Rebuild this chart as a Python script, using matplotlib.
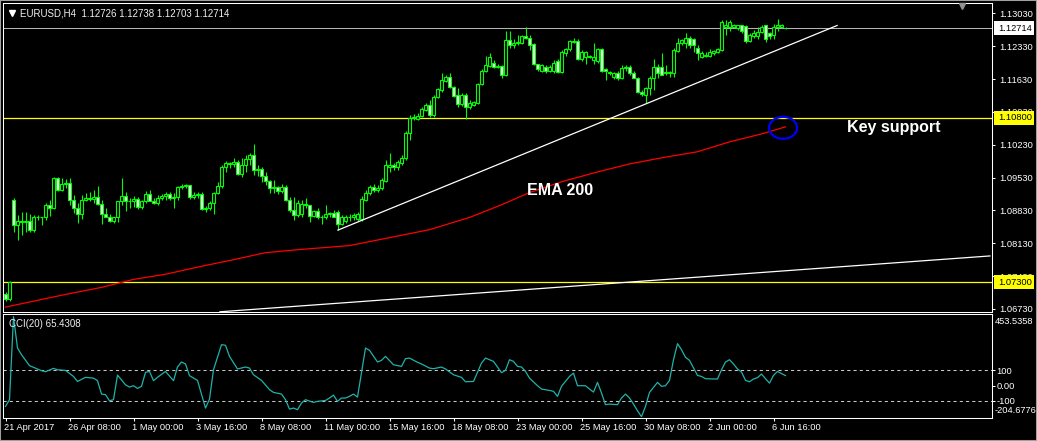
import numpy as np
import matplotlib
matplotlib.use('Agg')
import matplotlib.pyplot as plt
import matplotlib.transforms as mtransforms
from matplotlib.patches import Ellipse, Rectangle

# EURUSD H4 candles (bar index 0 = 21 Apr 2017)
opens = [
    1.0704, 1.0694, 1.0906, 1.0851, 1.0861, 1.0859, 1.0861, 1.0842, 1.0868, 1.0870,
    1.0868, 1.0895, 1.0889, 1.0952, 1.0927, 1.0940, 1.0942, 1.0906, 1.0889, 1.0876,
    1.0906, 1.0910, 1.0908, 1.0912, 1.0897, 1.0876, 1.0870, 1.0861, 1.0868, 1.0904,
    1.0914, 1.0902, 1.0904, 1.0908, 1.0891, 1.0902, 1.0919, 1.0904, 1.0899, 1.0910,
    1.0914, 1.0919, 1.0910, 1.0912, 1.0933, 1.0935, 1.0938, 1.0912, 1.0916, 1.0919,
    1.0887, 1.0889, 1.0899, 1.0921, 1.0935, 1.0976, 1.0984, 1.0982, 1.0986, 1.0961,
    1.0980, 1.0993, 1.1001, 1.0969, 1.0972, 1.0957, 1.0946, 1.0931, 1.0933, 1.0925,
    1.0933, 1.0906, 1.0884, 1.0874, 1.0876, 1.0897, 1.0895, 1.0872, 1.0882, 1.0868,
    1.0870, 1.0876, 1.0878, 1.0880, 1.0853, 1.0861, 1.0870, 1.0868, 1.0865, 1.0865,
    1.0906, 1.0921, 1.0933, 1.0927, 1.0931, 1.0946, 1.0976, 1.0980, 1.0976, 1.0984,
    1.0995, 1.1048, 1.1080, 1.1078, 1.1084, 1.1097, 1.1107, 1.1086, 1.1124, 1.1139,
    1.1158, 1.1167, 1.1146, 1.1128, 1.1109, 1.1128, 1.1103, 1.1107, 1.1112, 1.1152,
    1.1179, 1.1190, 1.1198, 1.1188, 1.1190, 1.1171, 1.1247, 1.1235, 1.1239, 1.1239,
    1.1254, 1.1251, 1.1237, 1.1194, 1.1181, 1.1188, 1.1179, 1.1181, 1.1201, 1.1177,
    1.1218, 1.1226, 1.1241, 1.1245, 1.1205, 1.1209, 1.1211, 1.1203, 1.1201, 1.1226,
    1.1184, 1.1177, 1.1167, 1.1175, 1.1165, 1.1186, 1.1188, 1.1175, 1.1165, 1.1135,
    1.1128, 1.1143, 1.1165, 1.1188, 1.1188, 1.1175, 1.1175, 1.1175, 1.1222, 1.1239,
    1.1239, 1.1251, 1.1249, 1.1228, 1.1209, 1.1211, 1.1213, 1.1218, 1.1220, 1.1224,
    1.1273, 1.1273, 1.1273, 1.1271, 1.1277, 1.1275, 1.1243, 1.1254, 1.1254, 1.1264,
    1.1277, 1.1260, 1.1256, 1.1273, 1.1273, 1.12726,
]
highs = [
    1.0709, 1.0732, 1.0910, 1.0874, 1.0880, 1.0880, 1.0876, 1.0874, 1.0874, 1.0870,
    1.0899, 1.0906, 1.0955, 1.0955, 1.0952, 1.0950, 1.0952, 1.0916, 1.0899, 1.0916,
    1.0921, 1.0923, 1.0927, 1.0935, 1.0906, 1.0889, 1.0876, 1.0868, 1.0904, 1.0952,
    1.0923, 1.0910, 1.0914, 1.0912, 1.0906, 1.0925, 1.0927, 1.0910, 1.0916, 1.0919,
    1.0923, 1.0923, 1.0921, 1.0935, 1.0940, 1.0940, 1.0938, 1.0923, 1.0923, 1.0923,
    1.0893, 1.0902, 1.0923, 1.0944, 1.0980, 1.0988, 1.0986, 1.0995, 1.0990, 1.0995,
    1.1001, 1.1005, 1.1025, 1.0980, 1.0976, 1.0965, 1.0948, 1.0948, 1.0935, 1.0940,
    1.0938, 1.0912, 1.0912, 1.0906, 1.0906, 1.0910, 1.0895, 1.0884, 1.0889, 1.0874,
    1.0895, 1.0880, 1.0884, 1.0884, 1.0874, 1.0874, 1.0876, 1.0878, 1.0880, 1.0914,
    1.0927, 1.0938, 1.0940, 1.0938, 1.0952, 1.0990, 1.1005, 1.0984, 1.0990, 1.1001,
    1.1052, 1.1086, 1.1088, 1.1090, 1.1103, 1.1112, 1.1118, 1.1128, 1.1143, 1.1175,
    1.1171, 1.1175, 1.1148, 1.1143, 1.1133, 1.1133, 1.1118, 1.1116, 1.1154, 1.1184,
    1.1213, 1.1218, 1.1203, 1.1196, 1.1192, 1.1266, 1.1266, 1.1249, 1.1256, 1.1256,
    1.1273, 1.1256, 1.1239, 1.1196, 1.1196, 1.1192, 1.1192, 1.1203, 1.1205, 1.1224,
    1.1228, 1.1247, 1.1251, 1.1249, 1.1224, 1.1222, 1.1215, 1.1239, 1.1228, 1.1228,
    1.1186, 1.1181, 1.1177, 1.1179, 1.1192, 1.1192, 1.1192, 1.1181, 1.1167, 1.1139,
    1.1146, 1.1169, 1.1205, 1.1196, 1.1218, 1.1192, 1.1181, 1.1228, 1.1251, 1.1249,
    1.1260, 1.1254, 1.1251, 1.1235, 1.1222, 1.1220, 1.1226, 1.1224, 1.1228, 1.1288,
    1.1288, 1.1288, 1.1281, 1.1279, 1.1279, 1.1277, 1.1260, 1.1268, 1.1273, 1.1279,
    1.1279, 1.1264, 1.1281, 1.1290, 1.1281, 1.12738,
]
lows = [
    1.0689, 1.0689, 1.0838, 1.0821, 1.0831, 1.0838, 1.0838, 1.0838, 1.0863, 1.0851,
    1.0863, 1.0872, 1.0887, 1.0925, 1.0925, 1.0931, 1.0895, 1.0878, 1.0857, 1.0865,
    1.0902, 1.0902, 1.0899, 1.0895, 1.0853, 1.0870, 1.0859, 1.0857, 1.0859, 1.0895,
    1.0882, 1.0889, 1.0891, 1.0887, 1.0887, 1.0899, 1.0902, 1.0897, 1.0895, 1.0906,
    1.0906, 1.0906, 1.0889, 1.0906, 1.0929, 1.0931, 1.0908, 1.0908, 1.0910, 1.0884,
    1.0880, 1.0884, 1.0876, 1.0919, 1.0931, 1.0965, 1.0974, 1.0976, 1.0959, 1.0955,
    1.0965, 1.0980, 1.0959, 1.0957, 1.0944, 1.0938, 1.0921, 1.0921, 1.0919, 1.0921,
    1.0902, 1.0880, 1.0863, 1.0870, 1.0870, 1.0889, 1.0859, 1.0868, 1.0865, 1.0855,
    1.0865, 1.0868, 1.0868, 1.0842, 1.0851, 1.0857, 1.0861, 1.0863, 1.0861, 1.0861,
    1.0904, 1.0916, 1.0923, 1.0923, 1.0927, 1.0944, 1.0965, 1.0969, 1.0969, 1.0980,
    1.0990, 1.1033, 1.1075, 1.1075, 1.1082, 1.1095, 1.1082, 1.1082, 1.1122, 1.1135,
    1.1156, 1.1143, 1.1124, 1.1103, 1.1105, 1.1078, 1.1099, 1.1105, 1.1109, 1.1150,
    1.1177, 1.1188, 1.1186, 1.1186, 1.1165, 1.1169, 1.1230, 1.1230, 1.1235, 1.1237,
    1.1249, 1.1224, 1.1192, 1.1179, 1.1177, 1.1175, 1.1177, 1.1175, 1.1175, 1.1175,
    1.1213, 1.1222, 1.1239, 1.1203, 1.1201, 1.1196, 1.1207, 1.1196, 1.1198, 1.1177,
    1.1160, 1.1171, 1.1162, 1.1160, 1.1162, 1.1181, 1.1171, 1.1165, 1.1133, 1.1126,
    1.1112, 1.1128, 1.1139, 1.1165, 1.1171, 1.1171, 1.1167, 1.1167, 1.1220, 1.1235,
    1.1230, 1.1230, 1.1220, 1.1203, 1.1207, 1.1209, 1.1209, 1.1215, 1.1218, 1.1222,
    1.1256, 1.1266, 1.1271, 1.1268, 1.1262, 1.1239, 1.1241, 1.1251, 1.1249, 1.1260,
    1.1241, 1.1249, 1.1249, 1.1266, 1.1271, 1.12703,
]
closes = [
    1.0694, 1.0730, 1.0851, 1.0861, 1.0859, 1.0861, 1.0842, 1.0868, 1.0870, 1.0868,
    1.0895, 1.0889, 1.0952, 1.0927, 1.0940, 1.0942, 1.0906, 1.0889, 1.0876, 1.0906,
    1.0910, 1.0908, 1.0912, 1.0897, 1.0876, 1.0870, 1.0861, 1.0868, 1.0904, 1.0914,
    1.0902, 1.0904, 1.0908, 1.0891, 1.0902, 1.0919, 1.0904, 1.0899, 1.0910, 1.0914,
    1.0919, 1.0910, 1.0912, 1.0933, 1.0935, 1.0938, 1.0912, 1.0916, 1.0919, 1.0887,
    1.0889, 1.0899, 1.0921, 1.0935, 1.0976, 1.0984, 1.0982, 1.0986, 1.0961, 1.0980,
    1.0993, 1.1001, 1.0969, 1.0972, 1.0957, 1.0946, 1.0931, 1.0933, 1.0925, 1.0933,
    1.0906, 1.0884, 1.0874, 1.0899, 1.0897, 1.0895, 1.0872, 1.0882, 1.0868, 1.0870,
    1.0876, 1.0878, 1.0870, 1.0853, 1.0870, 1.0870, 1.0868, 1.0874, 1.0876, 1.0908,
    1.0921, 1.0933, 1.0927, 1.0931, 1.0948, 1.0980, 1.0980, 1.0976, 1.0986, 1.0995,
    1.1048, 1.1080, 1.1082, 1.1084, 1.1099, 1.1107, 1.1086, 1.1124, 1.1141, 1.1160,
    1.1167, 1.1146, 1.1126, 1.1109, 1.1128, 1.1103, 1.1112, 1.1114, 1.1152, 1.1181,
    1.1192, 1.1209, 1.1188, 1.1190, 1.1171, 1.1247, 1.1235, 1.1239, 1.1241, 1.1254,
    1.1251, 1.1235, 1.1194, 1.1184, 1.1192, 1.1179, 1.1188, 1.1198, 1.1177, 1.1220,
    1.1226, 1.1243, 1.1245, 1.1205, 1.1220, 1.1220, 1.1209, 1.1209, 1.1226, 1.1181,
    1.1179, 1.1175, 1.1175, 1.1165, 1.1186, 1.1188, 1.1175, 1.1165, 1.1135, 1.1131,
    1.1143, 1.1165, 1.1188, 1.1175, 1.1171, 1.1177, 1.1177, 1.1224, 1.1239, 1.1247,
    1.1251, 1.1235, 1.1235, 1.1218, 1.1218, 1.1215, 1.1220, 1.1222, 1.1226, 1.1285,
    1.1277, 1.1285, 1.1277, 1.1277, 1.1266, 1.1243, 1.1256, 1.1260, 1.1264, 1.1273,
    1.1249, 1.1254, 1.1273, 1.1279, 1.1279, 1.12714,
]

# EMA(200), read at a few bars along the red line
ema_bars = [0, 15, 24, 32, 40, 49, 57, 65, 74, 86, 96, 106, 116, 124, 131,
            139, 148, 156, 164, 173, 181, 189, 195]
ema_vals = [1.0677, 1.0704, 1.0719, 1.0736, 1.0747, 1.0764, 1.0778, 1.0793,
            1.0800, 1.0808, 1.0825, 1.0842, 1.0868, 1.0895, 1.0921, 1.0944,
            1.0965, 1.0982, 1.0995, 1.1008, 1.1029, 1.1046, 1.1061]

# CCI(20) turning points
cci_bars = [0, 1, 2, 3, 4, 6, 9, 10, 12, 13, 15, 17, 18, 20, 22, 23, 24, 25, 26, 27,
            28, 30, 31, 32, 33, 34, 35, 36, 37, 38, 40, 42, 43, 44, 45, 46, 48, 50, 51, 52,
            54, 55, 56, 58, 60, 61, 62, 64, 66, 67, 69, 70, 71, 72, 73, 74, 75, 77, 78, 80,
            81, 82, 83, 84, 85, 86, 87, 88, 90, 91, 93, 94, 95, 97, 99, 100, 101, 103, 104, 106,
            107, 109, 110, 112, 114, 115, 117, 119, 120, 122, 124, 125, 126, 127, 128, 129, 130, 131, 133, 134,
            136, 137, 138, 139, 141, 142, 143, 145, 146, 147, 148, 149, 150, 151, 153, 154, 155, 156, 157, 158,
            159, 160, 161, 163, 164, 165, 166, 167, 168, 169, 170, 171, 173, 174, 175, 178, 179, 180, 181, 182,
            183, 184, 185, 186, 187, 188, 189, 190, 191, 192, 193, 195]
cci_vals = [-137, -93, 453.5358, 247, 203, 131, 98, 91, 113, 104, 100, 60, 27, 54, 49, 32, -56, -60, -100, -93,
            69, 5, -10, -1, -19, -5, 87, 93, 32, 54, 93, 32, 122, 155, 142, 65, 34, -148, -89, 104,
            269, 265, 192, 109, 122, 115, 71, 34, -27, -45, -56, -93, -155, -148, -159, -115, -93, -111, -104, -98,
            -82, -63, -104, -82, -82, -71, -56, -76, 247, 232, 155, 166, 192, 137, 126, 177, 181, 153, 142, 115,
            111, 122, 109, 71, 54, 25, 27, 148, 181, 159, 85, 100, 170, 159, 126, 122, 93, 49, -1, -23,
            -32, -38, -71, -5, 60, 82, -1, -1, -23, -43, 21, -49, -126, -122, -126, -82, -56, -82, -122, -166,
            -204.6776, -137, -45, 21, -5, -1, 34, 170, 276, 236, 186, 166, 67, 60, 45, 43, 104, 155, 170, 142,
            109, 89, 34, 25, 43, 52, 76, 45, 16, 67, 93, 65.4308]

# drawn objects
trend1_bars, trend1_px = [83.1, 207.9], [1.0841, 1.1277]
trend2_bars, trend2_px = [53.6, 246.1], [1.0667, 1.0786]
support_lines = [1.1080, 1.0730]
bid = 1.12714
price_ticks = [1.1303, 1.1233, 1.1163, 1.1093, 1.1023, 1.0953, 1.0883, 1.0813, 1.0743, 1.0673]
time_ticks = [0, 16, 32, 48, 64, 80, 96, 112, 128, 144, 160, 176, 192]
time_labels = ['21 Apr 2017', '26 Apr 08:00', '1 May 00:00', '3 May 16:00', '8 May 08:00',
               '11 May 00:00', '15 May 16:00', '18 May 08:00', '23 May 00:00', '25 May 16:00',
               '30 May 08:00', '2 Jun 00:00', '6 Jun 16:00']

plt.rcParams['font.family'] = ['Liberation Sans', 'DejaVu Sans']
FS = 6.7     # small terminal font
BIG = 11.5   # annotation font

W, H = 1037, 441
fig = plt.figure(figsize=(W / 100, H / 100), dpi=100, facecolor='black')


def box(x0, y0, x1, y1):
    return [x0 / W, 1 - y1 / H, (x1 - x0) / W, (y1 - y0) / H]


ax = fig.add_axes(box(3, 2.5, 992, 311.7), facecolor='black')
cx = fig.add_axes(box(3, 314, 992, 418.3), facecolor='black', sharex=ax)
for a in (ax, cx):
    for s in a.spines.values():
        s.set_color('white')
        s.set_linewidth(0.75)

x = np.arange(len(closes))
o, h, l, c = map(np.array, (opens, highs, lows, closes))
up = c >= o

ax.set_xlim(-0.625, 246.625)
ax.set_ylim(1.06672, 1.13260)

ax.axhline(bid, color='#b4b4b4', lw=0.75, zorder=2)
for lvl in support_lines:
    ax.axhline(lvl, color='#ffff00', lw=0.9, zorder=2)

ax.vlines(x, l, h, colors='#00ff00', lw=0.8, zorder=3)
ax.bar(x, np.maximum(np.abs(c - o), 0.00004), bottom=np.minimum(o, c), width=0.58,
       color=np.where(up, 'black', 'white'), edgecolor='#00ff00', linewidth=0.8, zorder=4)

ax.plot(ema_bars, ema_vals, color='#ff0000', lw=0.9, zorder=5)
ax.plot(trend1_bars, trend1_px, color='white', lw=0.9, zorder=5)
ax.plot(trend2_bars, trend2_px, color='white', lw=0.9, zorder=5)

ax.add_patch(Ellipse((194.4, 1.1059), 7, 0.00467, facecolor='none',
                     edgecolor='#0000ff', lw=1.6, zorder=6))
ax.text(130.4, 1.0916, 'EMA 200', color='white', fontsize=BIG, fontweight='bold',
        ha='left', va='baseline', zorder=7)
ax.text(210.4, 1.1050, 'Key support', color='white', fontsize=BIG, fontweight='bold',
        ha='left', va='baseline', zorder=7)

# price scale
ax.yaxis.tick_right()
ax.set_yticks(price_ticks)
ax.set_yticklabels([f'{v:.5f}' for v in price_ticks])
ax.tick_params(axis='y', colors='white', length=2.2, width=0.75, pad=3, labelsize=FS)
ax.tick_params(axis='x', bottom=False, labelbottom=False)

bt = mtransforms.blended_transform_factory(fig.transFigure, ax.transData)
for val, fc in [(bid, 'white'), (1.1080, '#ffff00'), (1.0730, '#ffff00')]:
    ax.add_patch(Rectangle((994 / W, val - 0.0015), 40 / W, 0.0030, transform=bt,
                           facecolor=fc, edgecolor='none', clip_on=False, zorder=8))
    ax.text(998 / W, val, f'{val:.5f}', transform=bt, color='black', fontsize=FS,
            ha='left', va='center', clip_on=False, zorder=9)

# CCI panel
cx.set_ylim(-215.5, 471)
cx.axhline(100, color='#c8c8c8', lw=0.75, ls=(0, (3, 3)))
cx.axhline(-100, color='#c8c8c8', lw=0.75, ls=(0, (3, 3)))
cx.plot(cci_bars, cci_vals, color='#20b2aa', lw=0.9)
cx.yaxis.tick_right()
cx.set_yticks([100, 0, -100])
cx.set_yticklabels(['100', '0.00', '-100'])
cx.tick_params(axis='y', colors='white', length=2.2, width=0.75, pad=1, labelsize=FS)
ct = mtransforms.blended_transform_factory(fig.transFigure, cx.transData)
cx.text(995 / W, 421, '453.5358', transform=ct, color='white', fontsize=FS, va='center', clip_on=False)
cx.text(995 / W, -165, '-204.6776', transform=ct, color='white', fontsize=FS, va='center', clip_on=False)

cx.set_xticks(time_ticks)
cx.tick_params(axis='x', colors='white', length=2.5, width=0.75, labelbottom=False)
tt = mtransforms.blended_transform_factory(cx.transData, fig.transFigure)
for b, lab in zip(time_ticks, time_labels):
    cx.text(b - 0.3, 1 - 427 / H, lab, transform=tt, color='white', fontsize=FS,
            ha='left', va='center', clip_on=False)

# header texts
fig.text(20 / W, 1 - 13 / H, 'EURUSD,H4  1.12726 1.12738 1.12703 1.12714',
         color='#f0f0f0', fontsize=FS + 0.3, va='center')
fig.lines.append(plt.Line2D([11.5 / W], [1 - 12.5 / H], marker='v', ms=4, color='white',
                            transform=fig.transFigure))
fig.lines.append(plt.Line2D([962 / W], [1 - 6 / H], marker='v', ms=5, color='#909090',
                            transform=fig.transFigure))
fig.text(9 / W, 1 - 324 / H, 'CCI(20) 65.4308', color='#f0f0f0', fontsize=FS + 0.3, va='center')

fig.patches.append(Rectangle((0, 0), 1, 1, transform=fig.transFigure, fill=False,
                             edgecolor='#a0a0a0', lw=1.5))

fig.savefig('out.png', dpi=100, facecolor='black')
